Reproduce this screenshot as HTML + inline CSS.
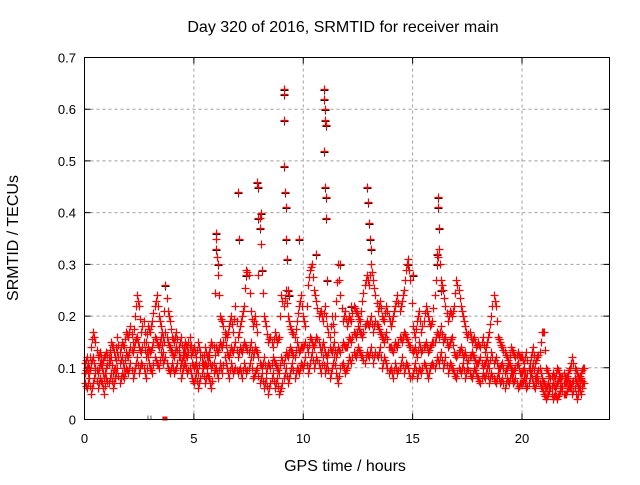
<!DOCTYPE html>
<html><head><meta charset="utf-8"><style>
body{margin:0;background:#fff}
svg text{font-family:"Liberation Sans",sans-serif;font-size:13px;fill:#000}
svg text.big{font-size:16px}
</style></head><body>
<svg id="chart" width="640" height="480" viewBox="0 0 640 480" xmlns="http://www.w3.org/2000/svg">
<rect width="640" height="480" fill="#fff"/>
<text class="big" x="343" y="32" text-anchor="middle">Day 320 of 2016, SRMTID for receiver main</text>
<text class="big" x="345" y="471" text-anchor="middle">GPS time / hours</text>
<text class="big" transform="translate(18,238) rotate(-90)" text-anchor="middle">SRMTID / TECUs</text>
<g id="grid"></g>
<g id="ticks"></g>
<g id="marks"></g>
<rect x="84.5" y="57.5" width="525" height="362" fill="none" stroke="#000" stroke-width="1"/>
</svg>
<script>
const xTicks=[0,5,10,15,20];
const yTicks=[0,0.1,0.2,0.3,0.4,0.5,0.6,0.7];
const yTickLabels=["0","0.1","0.2","0.3","0.4","0.5","0.6","0.7"];
const seriesA=[.07,.06,.08,.05,.07,.09,.06,.08,.07,.05,.08,.07,.09,.06,.08,.10,.07,.09,.08,.10,.09,.11,.08,.10,.12,.09,.11,.10,.08,.12,.10,.09,.12,.11,.10,.13,.11,.12,.10,.09,.11,.09,.10,.12,.08,.10,.11,.09,.10,.08,.07,.09,.06,.08,.10,.07,.09,.08,.06,.09,.10,.08,.11,.09,.12,.10,.08,.11,.09,.10,.09,.10,.08,.11,.09,.10,.12,.08,.09,.10,.07,.09,.06,.08,.05,.07,.09,.06,.08,.05,.06,.08,.10,.07,.09,.11,.08,.10,.09,.11,.10,.12,.09,.11,.13,.10,.12,.11,.09,.12,.09,.11,.08,.10,.12,.09,.07,.10,.11,.09,.10,.12,.11,.13,.12,.14,.13,.12,.11,.13,.12,.14,.11,.13,.12,.14,.10,.12,.11,.09,.10,.08,.11,.09,.10,.12,.09,.11,.10,.08,.09,.11,.08,.10,.09,.11,.10,.08,.10,.11,.10,.12,.11,.13,.10,.12,.09,.11,.10,.09,.08,.10,.09,.11,.08,.10,.09,.08,.10,.09,.08,.07,.09,.08,.10,.07,.09,.08,.07,.09,.07,.08,.06,.08,.07,.09,.07,.08,.06,.07,.07,.08,.06,.07,.09,.07,.06,.08,.07,.06,.05,.04,.05,.06,.04,.05,.04,.05,.06,.05,.05,.06,.07,.05,.06,.04,.06,.05,.07];
const seriesB=[.11,.12,.10,.14,.17,.15,.12,.13,.11,.12,.13,.12,.15,.14,.12,.16,.13,.15,.14,.17,.16,.18,.15,.20,.24,.22,.17,.19,.15,.18,.17,.19,.22,.24,.20,.18,.16,.26,.21,.19,.16,.15,.17,.14,.16,.13,.15,.14,.16,.13,.14,.12,.15,.13,.11,.14,.12,.13,.15,.14,.35,.28,.20,.19,.17,.16,.18,.20,.17,.22,.16,.18,.20,.22,.29,.28,.21,.18,.20,.17,.39,.29,.20,.18,.15,.16,.14,.17,.15,.16,.24,.22,.25,.20,.18,.17,.16,.19,.22,.24,.20,.18,.26,.29,.30,.25,.23,.20,.21,.19,.22,.18,.16,.20,.17,.23,.30,.24,.19,.21,.18,.20,.19,.22,.21,.20,.19,.23,.26,.28,.26,.30,.27,.24,.21,.23,.20,.19,.22,.20,.18,.20,.22,.24,.21,.23,.25,.29,.31,.27,.18,.16,.19,.21,.17,.19,.22,.20,.18,.19,.24,.30,.33,.27,.25,.22,.19,.21,.20,.22,.27,.25,.22,.20,.18,.16,.17,.15,.16,.14,.15,.14,.16,.13,.15,.17,.20,.24,.22,.16,.15,.14,.13,.12,.11,.14,.13,.12,.13,.12,.12,.11,.13,.10,.12,.14,.11,.12,.13,.17,.17,.10,.09,.08,.09,.08,.10,.09,.08,.09,.08,.09,.10,.12,.10,.09,.08,.09,.10];
const seriesC=[.09,.10,.08,.11,.12,.10,.09,.11,.10,.08,.10,.11,.12,.09,.10,.13,.11,.12,.10,.13,.12,.14,.13,.15,.16,.14,.13,.15,.12,.14,.13,.14,.16,.15,.14,.16,.13,.17,.15,.14,.13,.12,.14,.13,.11,.12,.13,.12,.14,.11,.10,.11,.09,.12,.10,.11,.10,.12,.10,.11,.14,.13,.15,.14,.16,.13,.12,.14,.13,.15,.12,.14,.13,.15,.14,.13,.15,.12,.14,.13,.11,.10,.12,.09,.11,.10,.12,.11,.10,.09,.12,.11,.13,.12,.14,.13,.12,.15,.13,.14,.14,.15,.13,.16,.15,.14,.16,.15,.13,.15,.13,.12,.14,.13,.15,.12,.14,.13,.15,.14,.14,.16,.15,.17,.16,.18,.17,.16,.18,.19,.18,.20,.17,.19,.18,.17,.16,.15,.17,.14,.14,.13,.15,.14,.16,.15,.17,.16,.15,.14,.13,.14,.12,.15,.13,.14,.15,.13,.14,.15,.15,.17,.16,.18,.15,.16,.14,.15,.16,.13,.12,.13,.14,.12,.13,.11,.12,.13,.12,.11,.11,.12,.10,.11,.12,.10,.13,.11,.12,.10,.10,.11,.09,.10,.11,.10,.09,.10,.11,.09,.09,.10,.08,.10,.09,.11,.08,.09,.10,.08,.07,.06,.07,.06,.07,.06,.07,.08,.06,.07,.07,.08,.06,.07,.08,.07,.06,.08,.07];
const spikeTimes=[6.0,6.02,6.1,7.0,7.05,7.9,7.95,7.92,8.0,8.1,9.1,9.12,9.1,9.1,9.15,9.2,9.22,9.25,9.3,10.95,10.97,11.0,11.0,11.05,10.97,11.0,11.02,11.05,9.8,10.6,12.9,12.95,13.0,13.05,13.1,16.15,16.17,16.2,16.1,16.12,16.3,14.8,15.0,11.7,12.2,7.4,3.7,8.05,9.35,11.1];
const spikeValues=[.36,.33,.30,.44,.35,.46,.45,.39,.37,.29,.64,.63,.58,.49,.44,.41,.35,.31,.25,.64,.62,.60,.58,.57,.52,.45,.43,.39,.35,.32,.45,.42,.38,.35,.33,.43,.41,.37,.32,.30,.25,.30,.28,.30,.22,.28,.26,.40,.24,.27];
const startTime=0, stepTime=0.1;
const X0=84.5,X1=609.5,Y0=419.5,Y1=57.5,XMAX=24,YMAX=0.7;
const xs=v=>X0+(v/XMAX)*(X1-X0);
const ys=v=>Y0-(v/YMAX)*(Y0-Y1);
const NS="http://www.w3.org/2000/svg";
const grid=document.getElementById('grid'),ticks=document.getElementById('ticks'),marks=document.getElementById('marks');
function mk(tag,attrs,parent){const e=document.createElementNS(NS,tag);for(const k in attrs)e.setAttribute(k,attrs[k]);parent.appendChild(e);return e;}
xTicks.forEach((t,i)=>{const x=xs(t);
 if(t>0){const g=mk('line',{x1:x,x2:x,y1:Y0,y2:Y1,stroke:'#a0a0a0','stroke-dasharray':'3,3'},grid);
 
 }
 const tk=mk('path',{d:`M${x},${Y0}v-6M${x},${Y1}v6`,stroke:'#000'},ticks);
 
 
 const l=mk('text',{x:x,y:443,'text-anchor':'middle'},ticks);l.textContent=t;
 
 });
yTicks.forEach((t,i)=>{const y=ys(t);
 if(t>0&&t<YMAX-1e-9){const g=mk('line',{x1:X0,x2:X1,y1:y,y2:y,stroke:'#a0a0a0','stroke-dasharray':'3,3'},grid);
 
 }
 const tk=mk('path',{d:`M${X0},${y}h6M${X1},${y}h-6`,stroke:'#000'},ticks);
 
 
 const l=mk('text',{x:76,y:y+5,'text-anchor':'end'},ticks);l.textContent=yTickLabels[i];
 
 });
let d='';
function cross(t,v){const x=Math.round(xs(t))+0.5,y=Math.round(ys(v))+0.5;d+=`M${x-4},${y}h8M${x},${y-4}v8`;}
[seriesA,seriesB,seriesC].forEach(s=>s.forEach((v,i)=>{cross(startTime+i*stepTime,v);cross(startTime+i*stepTime+0.05,(v+s[Math.min(i+1,s.length-1)])/2);}));
spikeTimes.forEach((t,i)=>cross(t,spikeValues[i]));
let db='';spikeTimes.forEach((t,i)=>{const x=Math.round(xs(t))+0.5,y=Math.round(ys(spikeValues[i]))+1.5;db+=`M${x-4},${y}h8M${x},${y-4}v8`;});
const pb=mk('path',{d:db,stroke:'#000','stroke-width':1,fill:'none'},marks);


const pr=mk('path',{d:d,stroke:'#ff0000','stroke-width':1.2,fill:'none'},marks);


const sq=mk('rect',{x:xs(3.7)-3,y:Y0-3,width:5,height:4,fill:'#ff0000'},marks);


const bk=mk('path',{d:`M${xs(2.9)},${Y0-4}v4M${xs(2.9)+3},${Y0-4}v4`,stroke:'#555'},marks);


</script>
</body></html>
